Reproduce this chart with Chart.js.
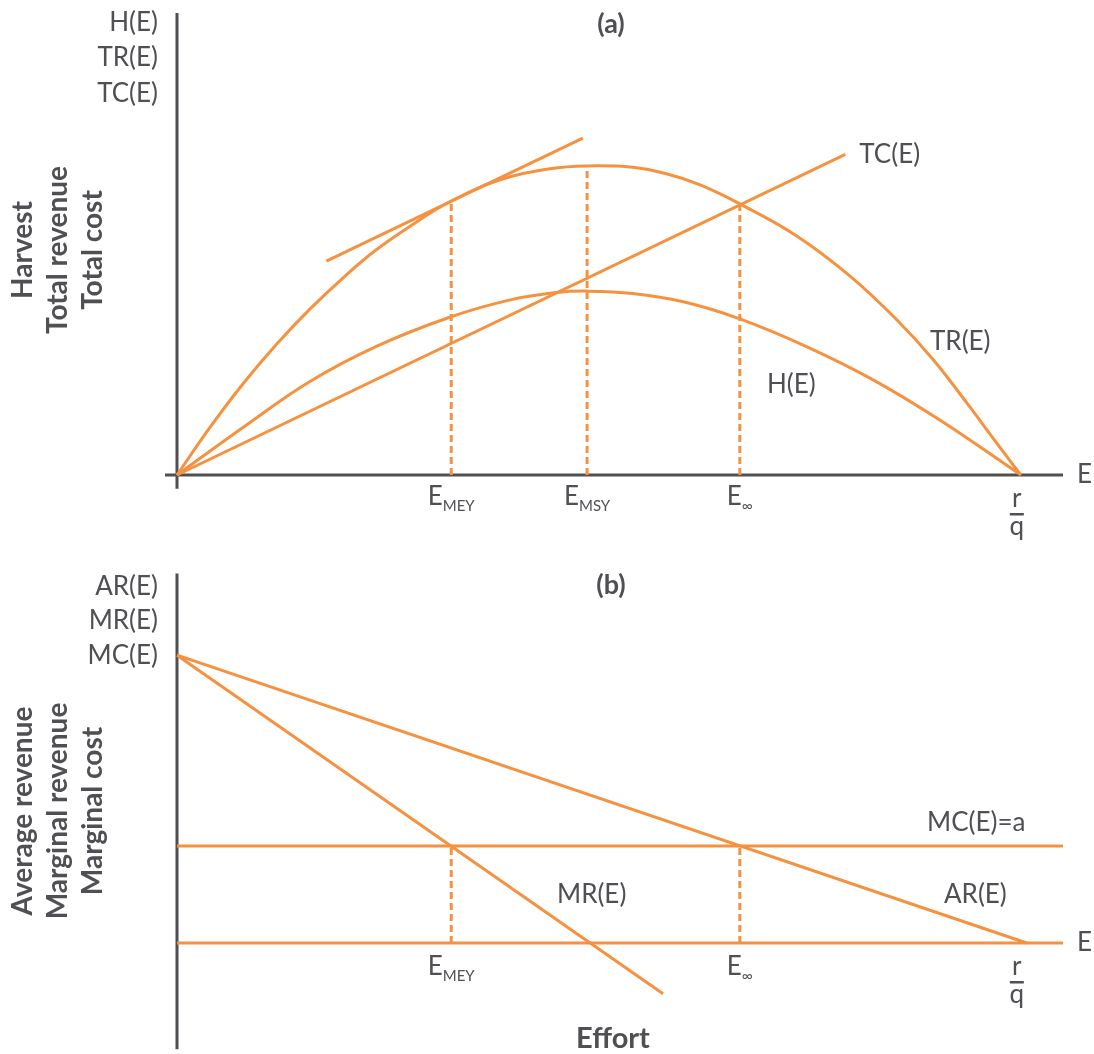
<!DOCTYPE html>
<html>
<head>
<meta charset="utf-8">
<script src="https://cdn.jsdelivr.net/npm/chart.js@4.4.1/dist/chart.umd.min.js"></script>
<style>
  html, body { margin: 0; padding: 0; background: #fff; }
  .panel { position: absolute; left: 0; width: 1094px; }
  #panelA { top: 0; height: 560px; }
  #panelB { top: 527px; height: 527px; }
</style>
</head>
<body>
<div class="panel" id="panelA"><canvas id="chartA" width="1094" height="560"></canvas></div>
<div class="panel" id="panelB"><canvas id="chartB" width="1094" height="527"></canvas></div>
<script>
// reference efforts on the E axis
const eMEY = 32.5;
const eMSY = 48.6;
const eInf = 66.7;
const rOverQ = 100;

// (a) total revenue TR(E)
const trEffort = [0, 3.95, 7.9, 11.85, 15.8, 19.75, 23.5, 28.0, 32.5, 38.3, 44.2, 48.6, 54.0, 58.0, 62.0, 66.7, 73.4, 79.8, 85.3, 89.6, 93.6, 96.7, 100];
const trValue = [0, 10.4, 19.9, 28.4, 36.0, 42.8, 48.6, 54.3, 59.3, 63.9, 66.3, 66.9, 66.6, 65.2, 62.8, 58.7, 51.8, 43.0, 33.6, 25.0, 15.6, 8.0, 0];

// (a) harvest H(E)
const hEffort = [0, 7.9, 15.8, 23.7, 32.4, 39.5, 45.0, 48.6, 54.0, 60.0, 66.7, 74.6, 82.5, 90.4, 100];
const hValue = [0, 10.4, 20.3, 27.9, 34.2, 37.9, 39.5, 39.8, 39.3, 37.5, 33.8, 27.8, 20.6, 11.9, 0];

// (a) total cost TC(E) and the tangent at E_MEY
const tcEffort = [0, 79.2];
const tcValue = [0, 69.4];
const tangentEffort = [17.7, 48.1];
const tangentValue = [46.3, 72.9];
const dropEffortA = [eMEY, eMSY, eInf];
const dropTopA = [59.3, 66.9, 58.7];

// (b) average revenue, marginal revenue, marginal cost
const arEffort = [0, 100.7];
const arValue = [62.3, 0];
const mrEffort = [0, 57.6];
const mrValue = [62.3, -11.0];
const mcLevel = 21.0;
const dropEffortB = [eMEY, eInf];

const orange = '#F6923F';
const ink = '#4f4f54';
const font = 'Lato, "Open Sans", sans-serif';
const pxPerUnit = 4.62;

function pts(xs, ys) {
  return xs.map((x, i) => ({ x: x, y: ys[i] }));
}

function curve(data, smooth) {
  return {
    data: data,
    borderColor: orange,
    borderWidth: 3,
    pointRadius: 0,
    showLine: true,
    fill: false,
    clip: false,
    tension: smooth ? 0.4 : 0
  };
}

function dashed(x, top) {
  let d = curve([{ x: x, y: 0 }, { x: x, y: top }], false);
  d.borderDash = [7, 4];
  return d;
}

function baseOptions(yMin, yMax, padTop, padBottom) {
  return {
    responsive: false,
    animation: false,
    layout: { padding: { left: 177, right: 31, top: padTop, bottom: padBottom } },
    plugins: { legend: { display: false }, tooltip: { enabled: false } },
    events: [],
    scales: {
      x: { type: 'linear', min: 0, max: 105, display: false },
      y: { type: 'linear', min: yMin, max: yMax, display: false }
    }
  };
}

function text(ctx, str, x, y, align, size, bold) {
  ctx.font = (bold ? '700 ' : '400 ') + size + 'px ' + font;
  ctx.textAlign = align;
  ctx.textBaseline = 'middle';
  ctx.fillStyle = ink;
  ctx.fillText(str, x, y);
}

function vtext(ctx, str, x, y) {
  ctx.save();
  ctx.translate(x, y);
  ctx.rotate(-Math.PI / 2);
  text(ctx, str, 0, 0, 'center', 28, true);
  ctx.restore();
}

// E with a small subscript, centred on x
function subLabel(ctx, main, sub, x, y) {
  ctx.font = '400 26px ' + font;
  const w1 = ctx.measureText(main).width;
  ctx.font = '400 15px ' + font;
  const w2 = ctx.measureText(sub).width;
  const left = x - (w1 + w2) / 2;
  text(ctx, main, left, y, 'left', 26, false);
  text(ctx, sub, left + w1, y + 9, 'left', 15, false);
}

function fraction(ctx, x, yAxis) {
  text(ctx, 'r', x, yAxis + 24, 'center', 26, false);
  ctx.fillStyle = ink;
  ctx.fillRect(x - 7, yAxis + 38, 14, 2.5);
  text(ctx, 'q', x, yAxis + 52, 'center', 26, false);
}

function yAxisLine(ctx, x, top, bottom) {
  ctx.save();
  ctx.strokeStyle = ink;
  ctx.lineWidth = 3;
  ctx.beginPath();
  ctx.moveTo(x, top);
  ctx.lineTo(x, bottom);
  ctx.stroke();
  ctx.restore();
}

// ---------- panel (a)
const axesA = {
  id: 'axesA',
  beforeDatasetsDraw(chart) {
    const ctx = chart.ctx;
    const xs = chart.scales.x, ys = chart.scales.y;
    const x0 = xs.getPixelForValue(0), y0 = ys.getPixelForValue(0);
    yAxisLine(ctx, x0, chart.chartArea.top, chart.chartArea.bottom);
    ctx.save();
    ctx.strokeStyle = ink;
    ctx.lineWidth = 3;
    ctx.beginPath();
    ctx.moveTo(x0 - 12, y0);
    ctx.lineTo(xs.getPixelForValue(105), y0);
    ctx.stroke();
    ctx.restore();
  },
  afterDraw(chart) {
    const ctx = chart.ctx;
    const xs = chart.scales.x, ys = chart.scales.y;
    const y0 = ys.getPixelForValue(0);
    text(ctx, '(a)', 611, 24, 'center', 27, true);
    text(ctx, 'H(E)', 158, 23, 'right', 26, false);
    text(ctx, 'TR(E)', 158, 58, 'right', 26, false);
    text(ctx, 'TC(E)', 158, 94, 'right', 26, false);
    vtext(ctx, 'Harvest', 23, 250);
    vtext(ctx, 'Total revenue', 58, 250);
    vtext(ctx, 'Total cost', 93, 250);
    text(ctx, 'TC(E)', xs.getPixelForValue(tcEffort[1]) + 14, ys.getPixelForValue(tcValue[1]), 'left', 26, false);
    text(ctx, 'TR(E)', 930, 342, 'left', 26, false);
    text(ctx, 'H(E)', 767, 385, 'left', 26, false);
    subLabel(ctx, 'E', 'MEY', xs.getPixelForValue(eMEY), y0 + 22);
    subLabel(ctx, 'E', 'MSY', xs.getPixelForValue(eMSY), y0 + 22);
    subLabel(ctx, 'E', '∞', xs.getPixelForValue(eInf), y0 + 22);
    fraction(ctx, xs.getPixelForValue(rOverQ) - 4, y0);
    text(ctx, 'E', 1077, y0, 'left', 26, false);
  }
};

const padTopA = 13;
new Chart(document.getElementById('chartA'), {
  type: 'scatter',
  data: {
    datasets: [
      curve(pts(trEffort, trValue), true),
      curve(pts(hEffort, hValue), true),
      curve(pts(tcEffort, tcValue), false),
      curve(pts(tangentEffort, tangentValue), false)
    ].concat(dropEffortA.map((e, i) => dashed(e, dropTopA[i])))
  },
  options: baseOptions(-3, 100, padTopA, 560 - padTopA - 103 * pxPerUnit),
  plugins: [axesA]
});

// ---------- panel (b)
const axesB = {
  id: 'axesB',
  beforeDatasetsDraw(chart) {
    const xs = chart.scales.x;
    yAxisLine(chart.ctx, xs.getPixelForValue(0), chart.chartArea.top, chart.chartArea.bottom);
  },
  afterDraw(chart) {
    const ctx = chart.ctx;
    const xs = chart.scales.x, ys = chart.scales.y;
    const y0 = ys.getPixelForValue(0);
    text(ctx, '(b)', 611, 58, 'center', 27, true);
    text(ctx, 'AR(E)', 158, 60, 'right', 26, false);
    text(ctx, 'MR(E)', 158, 94, 'right', 26, false);
    text(ctx, 'MC(E)', 158, 129, 'right', 26, false);
    vtext(ctx, 'Average revenue', 23, 284);
    vtext(ctx, 'Marginal revenue', 58, 284);
    vtext(ctx, 'Marginal cost', 93, 284);
    text(ctx, 'MC(E)=a', 927, ys.getPixelForValue(mcLevel) - 23, 'left', 26, false);
    text(ctx, 'MR(E)', 557, 368, 'left', 26, false);
    text(ctx, 'AR(E)', 944, 368, 'left', 26, false);
    subLabel(ctx, 'E', 'MEY', xs.getPixelForValue(eMEY), y0 + 24);
    subLabel(ctx, 'E', '∞', xs.getPixelForValue(eInf), y0 + 24);
    fraction(ctx, xs.getPixelForValue(rOverQ) - 4, y0);
    text(ctx, 'E', 1077, y0, 'left', 26, false);
    text(ctx, 'Effort', 613, 512, 'center', 29, true);
  }
};

const padTopB = 416 - 80 * pxPerUnit;
new Chart(document.getElementById('chartB'), {
  type: 'scatter',
  data: {
    datasets: [
      curve(pts([0, 105], [0, 0]), false),
      curve(pts([0, 105], [mcLevel, mcLevel]), false),
      curve(pts(arEffort, arValue), false),
      curve(pts(mrEffort, mrValue), false)
    ].concat(dropEffortB.map(e => dashed(e, mcLevel)))
  },
  options: baseOptions(-23, 80, padTopB, 527 - padTopB - 103 * pxPerUnit),
  plugins: [axesB]
});
</script>
</body>
</html>
